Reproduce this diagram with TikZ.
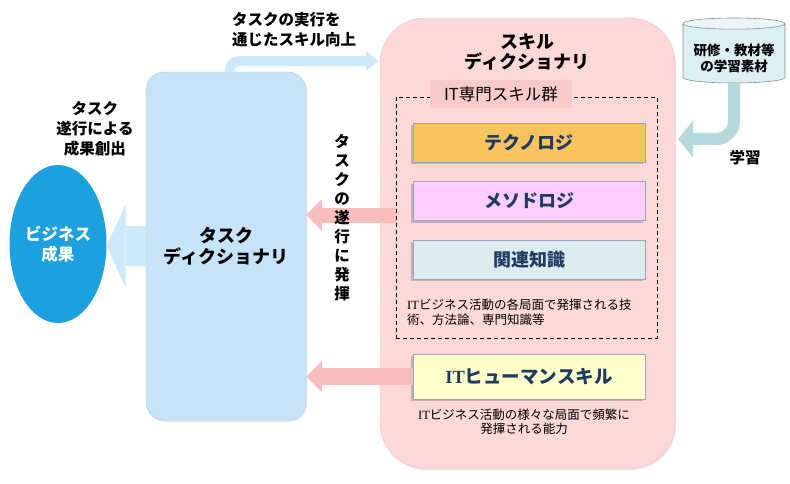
\documentclass[tikz,border=0pt]{standalone}
\usepackage{fontspec}
\setmainfont{Noto Sans CJK JP}
\newfontfamily\latinserif{Liberation Serif}
\usetikzlibrary{arrows.meta,shapes.geometric,shadows}
\definecolor{outcomeblue}{HTML}{1CA0DE}
\definecolor{taskfill}{HTML}{C6E3F7}
\definecolor{taskline}{HTML}{A8CDE8}
\definecolor{skillfill}{HTML}{FDD8D8}
\definecolor{skillline}{HTML}{F0BDBD}
\definecolor{labelpink}{HTML}{F9CACA}
\definecolor{liftblue}{HTML}{CDE8F8}
\definecolor{usepink}{HTML}{F8BEBE}
\definecolor{learnteal}{HTML}{B6D9DE}
\definecolor{techorange}{HTML}{F9C35E}
\definecolor{methpink}{HTML}{FFCCFF}
\definecolor{relcyan}{HTML}{DDEBEE}
\definecolor{humanyellow}{HTML}{FFFFCC}
\definecolor{itemline}{HTML}{95AABB}
\definecolor{itemtext}{HTML}{1F3A63}
\definecolor{bookfill}{HTML}{DDEFF1}
\definecolor{bookline}{HTML}{7F8F94}
\begin{document}
\begin{tikzpicture}[x=1pt,y=-1pt]
 \tikzset{bigtitle/.style = {font=\bfseries\fontsize{18pt}{20.5pt}\selectfont, align=center, inner sep=0pt}}
 \tikzset{caption/.style = {font=\bfseries\fontsize{15.5pt}{20pt}\selectfont, align=center, inner sep=0pt}}
 \tikzset{note/.style = {font=\fontsize{12.5pt}{14.5pt}\selectfont, inner sep=0pt}}
 \tikzset{skillitem/.style = {draw=itemline, line width=0.5pt, fill=#1, minimum width=232pt, minimum height=39pt, text=itemtext,
   font=\bfseries\fontsize{18pt}{20pt}\selectfont, drop shadow={opacity=0.45, shadow xshift=-2pt, shadow yshift=-2pt}}}
 \tikzset{blockarrow/.style 2 args = {draw=#1, line width=#2, line cap=butt}}
 \def\tipw{32pt}
 \def\tipl{16pt}

 \useasboundingbox (0,0) rectangle (790,484);

 \node[draw=skillline, fill=skillfill, rounded corners=45pt, minimum width=295pt, minimum height=450pt,
   drop shadow={opacity=0.2, shadow xshift=1pt, shadow yshift=-2pt}] (skill) at (527.5,243) {};
 \node[draw=taskline, fill=taskfill, rounded corners=18pt, minimum width=160pt, minimum height=348pt, bigtitle,
   drop shadow={opacity=0.2, shadow xshift=1pt, shadow yshift=-2pt}] (task) at (226,246) {タスク\\ディクショナリ};
 \node[ellipse, fill=outcomeblue, text=white, minimum width=97pt, minimum height=158pt, align=center, inner sep=0pt,
   font=\bfseries\fontsize{16.5pt}{20pt}\selectfont] (outcome) at (58,244) {ビジネス\\成果};

 \coordinate (liftend) at (378,61);
 \coordinate (skillout) at (397,215);
 \coordinate (learnend) at (678,139);
 \draw[blockarrow={liftblue}{10pt}, rounded corners=9pt, -{Triangle[width=20pt,length=12pt,line width=0pt]}]
   ([xshift=4pt]task.north) |- (liftend);
 \draw[blockarrow={liftblue}{40pt}, -{Triangle[width=84pt,length=19pt,line width=0pt]}]
   (task.west) -- (task.west -| outcome.east);
 \draw[blockarrow={usepink}{15pt}, -{Triangle[width=\tipw,length=\tipl,line width=0pt]}]
   (skillout) -- (task.east |- skillout);

 \node[draw, dashed, dash pattern=on 4pt off 3pt, line width=0.9pt, minimum width=261pt, minimum height=241pt] (group) at (526.5,217.5) {};
 \node[fill=labelpink, minimum width=142pt, minimum height=28pt, inner sep=0pt, font=\fontsize{16.5pt}{18pt}\selectfont] (grouptitle) at (501,94) {IT専門スキル群};
 \node[skillitem=techorange] (tech) at (529,142.5) {テクノロジ};
 \node[skillitem=methpink] (meth) at (529,201) {メソドロジ};
 \node[skillitem=relcyan] (rel) at (529,259.5) {関連知識};
 \node[note, anchor=west, align=left] (groupnote) at (407,312) {{\latinserif IT}ビジネス活動の各局面で発揮される技\\術、方法論、専門知識等};
 \node[skillitem=humanyellow, minimum height=45pt, font=\bfseries\fontsize{18.5pt}{20pt}\selectfont] (human) at (529,376.5) {{\latinserif\bfseries IT}ヒューマンスキル};
 \node[note, align=center] (humannote) at (524,422) {{\latinserif IT}ビジネス活動の様々な局面で頻繁に\\発揮される能力};
 \draw[blockarrow={usepink}{17pt}, -{Triangle[width=\tipw,length=\tipl,line width=0pt]}]
   (human.west) -- (task.east |- human.west);

 \node[bigtitle] (skilltitle) at (527,52) {スキル\\ディクショナリ};
 \node[caption, anchor=west, align=left] (liftlabel) at (232,30) {タスクの実行を\\通じたスキル向上};
 \node[caption] (outlabel) at (95,129) {タスク\\遂行による\\成果創出};
 \node[caption, font=\bfseries\fontsize{15.5pt}{19pt}\selectfont] (uselabel) at (342,218) {タ\\ス\\ク\\の\\遂\\行\\に\\発\\揮};

 \node[cylinder, shape border rotate=90, aspect=0.14, draw=bookline, line width=0.6pt, cylinder uses custom fill,
   cylinder body fill=bookfill, cylinder end fill=bookfill!60!white, minimum width=102pt, minimum height=65pt,
   text width=80pt, inner sep=0pt, anchor=shape center] (book) at (734,50.5) {};
 \node[align=center, inner sep=0pt, font=\bfseries\fontsize{13.5pt}{16pt}\selectfont] (booktext) at ([yshift=-8pt]book.shape center) {研修・教材等\\の学習素材};
 \draw[blockarrow={learnteal}{12pt}, rounded corners=18pt, -{Triangle[width=37pt,length=15pt,line width=0pt]}]
   (book.south) |- (learnend);
 \node[caption] (learnlabel) at (745,158) {学習};
\end{tikzpicture}
\end{document}
